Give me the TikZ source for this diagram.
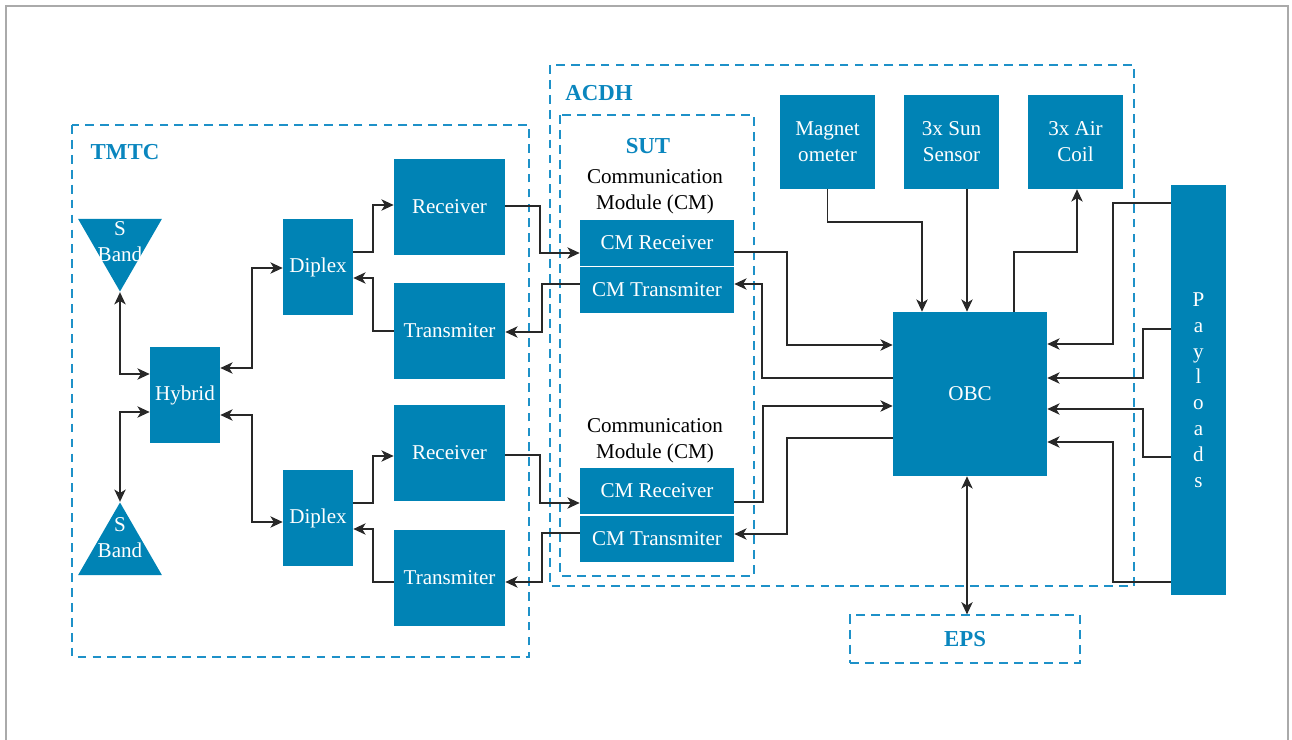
\documentclass[tikz,border=0pt]{standalone}
\usepackage{fontspec}
\setmainfont{Liberation Serif}
\usetikzlibrary{arrows.meta,shapes.geometric}

\definecolor{boxblue}{RGB}{0,131,181}
\definecolor{dashblue}{RGB}{30,145,200}
\definecolor{titleblue}{RGB}{10,134,190}
\definecolor{wire}{RGB}{40,40,40}
\definecolor{framegray}{RGB}{170,170,170}

\tikzset{
  block/.style={fill=boxblue, text=white, inner sep=0pt, align=center,
    font=\fontsize{12}{14.7}\selectfont},
  group/.style={draw=dashblue, line width=0.7pt, dash pattern=on 5pt off 3.5pt},
  grouptitle/.style={text=titleblue, inner sep=0pt, font=\fontsize{13}{15}\selectfont\bfseries},
  caption/.style={text=black, align=center, inner sep=0pt, font=\fontsize{12}{14.7}\selectfont},
  antenna/.style={regular polygon, regular polygon sides=3, fill=boxblue,
    inner sep=0pt, minimum size=1.94cm},
  link/.style={draw=wire, line width=0.7pt},
  >={Stealth[length=7pt,width=6.5pt,inset=2pt]}
}

\begin{document}
\begin{tikzpicture}[x=0.02cm, y=-0.02cm]
  \useasboundingbox (0,0) rectangle (1292,740);
  \draw[framegray, line width=0.9pt] (6,740) -- (6,6) -- (1288,6) -- (1288,740);

  % groups
  \draw[group] (72,125) rectangle (529,657);
  \draw[group] (550,65) rectangle (1134,586);
  \draw[group] (560,115) rectangle (754,576);
  \node[grouptitle] (tmtc) at (125,152) {TMTC};
  \node[grouptitle] (acdh) at (599,93) {ACDH};
  \node[grouptitle] (sut) at (648,146) {SUT};
  \node[group, grouptitle, minimum width=4.6cm, minimum height=0.96cm] (eps) at (965,639) {EPS};

  % TMTC
  \node[antenna, regular polygon rotate=180] (ant1) at (120,243) {};
  \node[block, fill=none] (ant1txt) at (120,242) {S\\Band};
  \node[antenna] (ant2) at (120,551) {};
  \node[block, fill=none] (ant2txt) at (120,538) {S\\Band};
  \node[block, minimum width=1.4cm, minimum height=1.92cm] (hyb) at (185,395) {Hybrid};
  \node[block, minimum width=1.4cm, minimum height=1.92cm] (dip1) at (318,267) {Diplex};
  \node[block, minimum width=1.4cm, minimum height=1.92cm] (dip2) at (318,518) {Diplex};
  \node[block, minimum width=2.22cm, minimum height=1.92cm] (rx1) at (449.5,207) {Receiver};
  \node[block, minimum width=2.22cm, minimum height=1.92cm] (tx1) at (449.5,331) {Transmiter};
  \node[block, minimum width=2.22cm, minimum height=1.92cm] (rx2) at (449.5,453) {Receiver};
  \node[block, minimum width=2.22cm, minimum height=1.92cm] (tx2) at (449.5,578) {Transmiter};

  % SUT
  \node[caption] (cm1) at (655,192) {Communication\\Module (CM)};
  \node[block, minimum width=3.08cm, minimum height=0.92cm] (cmrx1) at (657,243) {CM Receiver};
  \node[block, minimum width=3.08cm, minimum height=0.92cm] (cmtx1) at (657,290) {CM Transmiter};
  \node[caption] (cm2) at (655,441) {Communication\\Module (CM)};
  \node[block, minimum width=3.08cm, minimum height=0.92cm] (cmrx2) at (657,491) {CM Receiver};
  \node[block, minimum width=3.08cm, minimum height=0.92cm] (cmtx2) at (657,539) {CM Transmiter};

  % ACDH
  \node[block, minimum width=1.9cm, minimum height=1.88cm] (mag) at (827.5,142) {Magnet\\ometer};
  \node[block, minimum width=1.9cm, minimum height=1.88cm] (sun) at (951.5,142) {3x Sun\\Sensor};
  \node[block, minimum width=1.9cm, minimum height=1.88cm] (coil) at (1075.5,142) {3x Air\\Coil};
  \node[block, minimum width=3.08cm, minimum height=3.28cm] (obc) at (970,394) {OBC};
  \node[block, minimum width=1.1cm, minimum height=8.2cm] (pay) at (1198.5,390) {P\\a\\y\\l\\o\\a\\d\\s};

  % antennas and hybrid
  \draw[link, <->] (ant1.corner 1) |- (hyb.west |- 0,374);
  \draw[link, <->] (ant2.corner 1) |- (hyb.west |- 0,412);
  \draw[link, <->] (hyb.east |- 0,368) -- (252,368) |- (dip1.west |- 0,268);
  \draw[link, <->] (hyb.east |- 0,415) -- (252,415) |- (dip2.west |- 0,522);

  % diplexers
  \draw[link, ->] (dip1.east |- 0,252) -- (373,252) |- (rx1.west |- 0,205);
  \draw[link, ->] (tx1.west |- 0,331) -- (373,331) |- (dip1.east |- 0,278);
  \draw[link, ->] (dip2.east |- 0,503) -- (373,503) |- (rx2.west |- 0,456);
  \draw[link, ->] (tx2.west |- 0,582) -- (373,582) |- (dip2.east |- 0,529);

  % to the communication modules
  \draw[link, ->] (rx1.east |- 0,206) -- (540,206) |- (cmrx1.west |- 0,253);
  \draw[link, ->] (cmtx1.west |- 0,284) -- (542,284) |- (tx1.east |- 0,332);
  \draw[link, ->] (rx2.east |- 0,455) -- (540,455) |- (cmrx2.west |- 0,503);
  \draw[link, ->] (cmtx2.west |- 0,533) -- (542,533) |- (tx2.east |- 0,582);

  % OBC
  \draw[link, ->] (cmrx1.east |- 0,252) -- (787,252) |- (obc.west |- 0,345);
  \draw[link, ->] (obc.west |- 0,378) -- (762,378) |- (cmtx1.east |- 0,284);
  \draw[link, ->] (cmrx2.east |- 0,502) -- (763,502) |- (obc.west |- 0,406);
  \draw[link, ->] (obc.west |- 0,438) -- (787,438) |- (cmtx2.east |- 0,534);
  \draw[link, ->] (mag.south) -- (mag.south |- 0,222) -| (obc.north -| 922,0);
  \draw[link, ->] (sun.south -| 967,0) -- (obc.north -| 967,0);
  \draw[link, ->] (obc.north -| 1014,0) -- (1014,252) -| (coil.south -| 1077,0);
  \draw[link, <->] (obc.south -| 967,0) -- (eps.north -| 967,0);

  % payloads
  \draw[link, ->] (pay.west |- 0,203) -- (1113,203) |- (obc.east |- 0,344);
  \draw[link, ->] (pay.west |- 0,329) -- (1143,329) |- (obc.east |- 0,378);
  \draw[link, ->] (pay.west |- 0,457) -- (1143,457) |- (obc.east |- 0,409);
  \draw[link, ->] (pay.west |- 0,582) -- (1113,582) |- (obc.east |- 0,442);
\end{tikzpicture}
\end{document}
